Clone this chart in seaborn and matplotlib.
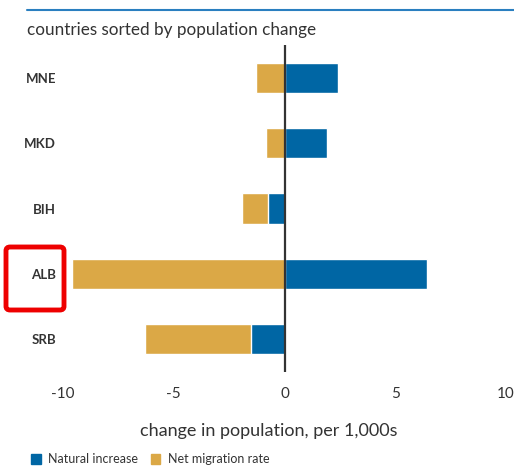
import matplotlib
matplotlib.use('Agg')
import matplotlib.pyplot as plt
from matplotlib.patches import Patch, FancyBboxPatch
import seaborn as sns
import pandas as pd

# countries, top to bottom
countries = ['MNE', 'MKD', 'BIH', 'ALB', 'SRB']
# per 1,000 inhabitants
natural_increase = [2.4, 1.9, -0.75, 6.45, -1.5]
net_migration = [-1.3, -0.85, -1.15, -9.6, -4.8]

BLUE = '#0066a4'
GOLD = '#dba846'

sns.set_theme(style='white')
plt.rcParams['font.family'] = ['Lato', 'DejaVu Sans']

df = pd.DataFrame({'country': countries,
                   'natural': natural_increase,
                   'migration': net_migration})
# migration is stacked after the negative part of natural increase
df['migration_end'] = df['natural'].clip(upper=0) + df['migration']

fig = plt.figure(figsize=(5.14, 4.66), dpi=100)
ax = fig.add_axes([63 / 514, 0.2017, 443 / 514, 0.7017])

sns.barplot(data=df, y='country', x='migration_end', order=countries,
            color=GOLD, saturation=1, width=0.46, orient='h', ax=ax)
sns.barplot(data=df, y='country', x='natural', order=countries,
            color=BLUE, saturation=1, width=0.46, orient='h', ax=ax)

ax.axvline(0, color='#333333', lw=1.6, zorder=5)
ax.set_xlim(-10, 10)
ax.set_ylim(4.5, -0.5)
ax.set_xticks([-10, -5, 0, 5, 10])
ax.set_xticklabels(['-10', '-5', '0', '5', '10'])
sns.despine(ax=ax, left=True, bottom=True)
ax.tick_params(axis='both', length=0, colors='#333333')
ax.tick_params(axis='x', pad=11, labelsize=11)
ax.tick_params(axis='y', pad=5, labelsize=9.5)
for lab in ax.get_yticklabels():
    lab.set_fontweight('bold')
ax.set_ylabel('')
ax.set_xlabel('change in population, per 1,000s', fontsize=13,
              color='#333333')
ax.xaxis.set_label_coords(0.465, -0.155)

# header rule and subtitle
fig.add_artist(plt.Line2D([27 / 514, 1], [1 - 10 / 466] * 2,
                          color='#2a7fc0', lw=1.5))
fig.text(27 / 514, 1 - 30 / 466, 'countries sorted by population change',
         fontsize=12.3, color='#333333', va='center', ha='left')

# legend
handles = [Patch(color=BLUE, label='Natural increase'),
           Patch(color=GOLD, label='Net migration rate')]
fig.legend(handles=handles, loc='center left',
           bbox_to_anchor=(20 / 514, 1 - 459 / 466), ncol=2, frameon=False,
           fontsize=9, handlelength=0.75, handleheight=0.9,
           handletextpad=0.6, columnspacing=1.0, labelcolor='#333333')

# red highlight box around ALB
fig.add_artist(FancyBboxPatch((6 / 514, 1 - 310 / 466), 58 / 514, 63 / 466,
                              boxstyle='round,pad=0,rounding_size=0.008',
                              transform=fig.transFigure, fill=False,
                              edgecolor='#ee0000', lw=3.5))

plt.savefig('out.png', dpi=100)
plt.close()
